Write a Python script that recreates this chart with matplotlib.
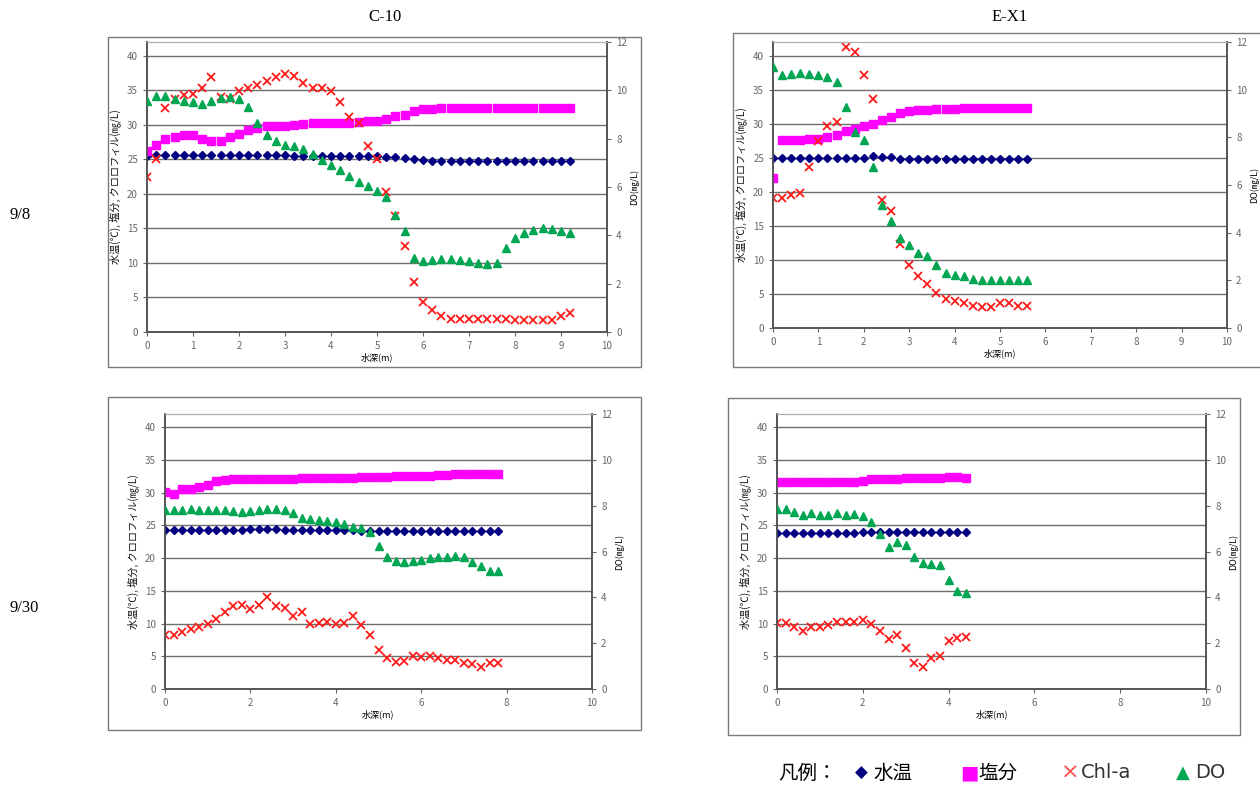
import matplotlib.pyplot as plt
from matplotlib.patches import Rectangle

plt.rcParams['font.family'] = ['Noto Sans CJK JP', 'DejaVu Sans']

W, H = 1260, 789

# ---- C-10, 9/8 ----
c10_a_depth = [0.0, 0.2, 0.4, 0.6, 0.8, 1.0, 1.2, 1.4, 1.6, 1.8, 2.0, 2.2, 2.4, 2.6, 2.8, 3.0,
               3.2, 3.4, 3.6, 3.8, 4.0, 4.2, 4.4, 4.6, 4.8, 5.0, 5.2, 5.4, 5.6, 5.8, 6.0, 6.2,
               6.4, 6.6, 6.8, 7.0, 7.2, 7.4, 7.6, 7.8, 8.0, 8.2, 8.4, 8.6, 8.8, 9.0, 9.2]
c10_a_temp = [25.5, 25.7, 25.7, 25.7, 25.7, 25.7, 25.7, 25.7, 25.7, 25.7, 25.7, 25.7, 25.7, 25.7,
              25.7, 25.7, 25.5, 25.5, 25.5, 25.5, 25.5, 25.5, 25.5, 25.5, 25.5, 25.5, 25.4, 25.3,
              25.2, 25.0, 24.9, 24.8, 24.8, 24.8, 24.8, 24.8, 24.8, 24.8, 24.8, 24.8, 24.8, 24.8,
              24.8, 24.8, 24.8, 24.8, 24.8]
c10_a_sal = [26.2, 27.1, 27.9, 28.2, 28.5, 28.5, 28.0, 27.7, 27.7, 28.2, 28.7, 29.2, 29.6, 29.9,
             29.9, 29.9, 30.0, 30.1, 30.2, 30.2, 30.3, 30.3, 30.3, 30.4, 30.5, 30.5, 30.9, 31.3,
             31.5, 32.0, 32.3, 32.3, 32.4, 32.4, 32.4, 32.4, 32.4, 32.4, 32.5, 32.5, 32.5, 32.5,
             32.5, 32.5, 32.5, 32.5, 32.5]
c10_a_chl = [22.4, 25.0, 32.5, 33.7, 34.3, 34.5, 35.3, 36.9, 34.0, 33.8, 34.9, 35.4, 35.8, 36.4,
             37.0, 37.4, 37.1, 36.1, 35.3, 35.3, 34.9, 33.3, 31.1, 30.2, 27.0, 25.1, 20.3, 16.8,
             12.5, 7.3, 4.3, 3.2, 2.3, 1.9, 1.9, 1.9, 1.9, 1.9, 1.9, 1.9, 1.8, 1.8, 1.8, 1.8,
             1.8, 2.3, 2.7]
c10_a_do = [9.57, 9.78, 9.78, 9.64, 9.57, 9.50, 9.44, 9.55, 9.68, 9.72, 9.64, 9.30, 8.65, 8.14,
            7.89, 7.75, 7.69, 7.58, 7.38, 7.13, 6.93, 6.72, 6.45, 6.20, 6.03, 5.85, 5.59, 4.86,
            4.20, 3.07, 2.93, 3.00, 3.03, 3.03, 2.98, 2.93, 2.85, 2.82, 2.85, 3.48, 3.87, 4.10,
            4.24, 4.31, 4.28, 4.17, 4.10]

# ---- E-X1, 9/8 ----
ex1_a_depth = [0.0, 0.2, 0.4, 0.6, 0.8, 1.0, 1.2, 1.4, 1.6, 1.8, 2.0, 2.2, 2.4, 2.6, 2.8, 3.0,
               3.2, 3.4, 3.6, 3.8, 4.0, 4.2, 4.4, 4.6, 4.8, 5.0, 5.2, 5.4, 5.6]
ex1_a_temp = [25.0, 25.0, 25.0, 25.0, 25.0, 25.0, 25.0, 25.0, 25.0, 25.0, 25.0, 25.2, 25.1, 25.1,
              24.8, 24.8, 24.8, 24.8, 24.8, 24.8, 24.8, 24.8, 24.8, 24.8, 24.8, 24.8, 24.8, 24.8,
              24.8]
ex1_a_sal = [22.0, 27.6, 27.6, 27.6, 27.7, 27.8, 28.0, 28.3, 28.9, 29.2, 29.6, 29.9, 30.6, 31.0,
             31.5, 31.8, 32.0, 32.0, 32.2, 32.2, 32.2, 32.3, 32.3, 32.3, 32.3, 32.3, 32.3, 32.3,
             32.3]
ex1_a_chl = [19.1, 19.1, 19.6, 19.8, 23.7, 27.5, 29.6, 30.2, 41.2, 40.5, 37.1, 33.6, 18.8, 17.2,
             12.4, 9.2, 7.6, 6.4, 5.2, 4.2, 3.9, 3.7, 3.3, 3.1, 3.1, 3.6, 3.7, 3.3, 3.3]
ex1_a_do = [10.95, 10.62, 10.67, 10.71, 10.67, 10.60, 10.53, 10.34, 9.29, 8.22, 7.87, 6.76, 5.18,
            4.48, 3.78, 3.50, 3.15, 3.04, 2.66, 2.31, 2.24, 2.17, 2.06, 2.03, 2.03, 2.00, 2.00,
            2.00, 2.00]

# ---- C-10, 9/30 ----
c10_b_depth = [0.0, 0.2, 0.4, 0.6, 0.8, 1.0, 1.2, 1.4, 1.6, 1.8, 2.0, 2.2, 2.4, 2.6, 2.8, 3.0,
               3.2, 3.4, 3.6, 3.8, 4.0, 4.2, 4.4, 4.6, 4.8, 5.0, 5.2, 5.4, 5.6, 5.8, 6.0, 6.2,
               6.4, 6.6, 6.8, 7.0, 7.2, 7.4, 7.6, 7.8]
c10_b_temp = [24.3, 24.3, 24.3, 24.3, 24.3, 24.3, 24.3, 24.3, 24.3, 24.3, 24.4, 24.4, 24.4, 24.4,
              24.3, 24.3, 24.3, 24.3, 24.3, 24.3, 24.3, 24.3, 24.3, 24.1, 24.1, 24.1, 24.1, 24.1,
              24.1, 24.1, 24.1, 24.1, 24.1, 24.1, 24.1, 24.1, 24.1, 24.1, 24.1, 24.1]
c10_b_sal = [30.1, 29.8, 30.5, 30.6, 30.9, 31.1, 31.7, 31.9, 32.0, 32.0, 32.1, 32.1, 32.1, 32.1,
             32.1, 32.1, 32.2, 32.2, 32.2, 32.2, 32.2, 32.2, 32.3, 32.4, 32.4, 32.4, 32.4, 32.5,
             32.5, 32.6, 32.6, 32.6, 32.7, 32.7, 32.8, 32.9, 32.9, 32.9, 32.9, 32.9]
c10_b_chl = [8.3, 8.2, 8.7, 9.2, 9.5, 10.0, 10.7, 11.7, 12.7, 12.8, 12.2, 12.8, 14.0, 12.7, 12.4,
             11.2, 11.8, 10.0, 10.1, 10.2, 10.0, 10.1, 11.1, 9.8, 8.2, 6.0, 4.8, 4.1, 4.3, 5.1,
             4.9, 5.1, 4.8, 4.5, 4.5, 4.0, 3.8, 3.4, 4.0, 3.9]
c10_b_do = [7.79, 7.82, 7.82, 7.85, 7.82, 7.82, 7.79, 7.79, 7.77, 7.74, 7.77, 7.82, 7.85, 7.85,
            7.79, 7.66, 7.48, 7.41, 7.37, 7.34, 7.28, 7.19, 7.09, 7.02, 6.87, 6.22, 5.74, 5.59,
            5.53, 5.59, 5.62, 5.71, 5.74, 5.76, 5.81, 5.74, 5.53, 5.36, 5.17, 5.17]

# ---- E-X1, 9/30 ----
ex1_b_depth = [0.0, 0.2, 0.4, 0.6, 0.8, 1.0, 1.2, 1.4, 1.6, 1.8, 2.0, 2.2, 2.4, 2.6, 2.8, 3.0,
               3.2, 3.4, 3.6, 3.8, 4.0, 4.2, 4.4]
ex1_b_temp = [23.8, 23.8, 23.8, 23.8, 23.8, 23.8, 23.8, 23.8, 23.8, 23.8, 24.0, 24.0, 24.0, 24.0,
              24.0, 24.0, 24.0, 24.0, 24.0, 24.0, 24.0, 24.0, 24.0]
ex1_b_sal = [31.6, 31.6, 31.6, 31.6, 31.6, 31.6, 31.6, 31.6, 31.6, 31.6, 31.7, 32.0, 32.1, 32.1,
             32.1, 32.2, 32.2, 32.3, 32.3, 32.3, 32.4, 32.4, 32.3]
ex1_b_chl = [10.1, 10.1, 9.4, 8.8, 9.5, 9.4, 9.8, 10.2, 10.2, 10.2, 10.6, 9.9, 8.9, 7.6, 8.2, 6.3,
             3.9, 3.3, 4.8, 5.1, 7.3, 7.8, 8.0]
ex1_b_do = [7.86, 7.86, 7.72, 7.60, 7.69, 7.61, 7.60, 7.69, 7.61, 7.64, 7.57, 7.28, 6.76, 6.21,
            6.40, 6.30, 5.77, 5.52, 5.45, 5.39, 4.76, 4.28, 4.20]

station_names = ['C-10', 'E-X1']
date_labels = ['9/8', '9/30']

NAVY = '#000080'
MAGENTA = '#ff00ff'
RED = '#ff1a1a'
GREEN = '#00a651'


def box(l, t, r, b):
    # pixel box -> figure fraction [left, bottom, width, height]
    return [l / W, 1 - b / H, (r - l) / W, (b - t) / H]


def frame(l, t, r, b):
    fig.add_artist(Rectangle((l / W, 1 - b / H), (r - l) / W, (b - t) / H,
                             transform=fig.transFigure, fill=False, ec='#7a7a7a', lw=1.0))


def panel(rect, depth, temp, sal, chl, do, xstep):
    ax = fig.add_axes(box(*rect))
    ax.set_xlim(0, 10)
    ax.set_ylim(0, 42)
    ax.set_yticks(list(range(0, 45, 5)))
    ax.set_xticks(list(range(0, 11, xstep)))
    for v in range(5, 45, 5):
        ax.axhline(v, color='#6f6f6f', lw=1.0, zorder=0)
    ax.plot(depth, temp, 'D', color=NAVY, ms=4.2, zorder=3)
    ax.plot(depth, sal, 's', color=MAGENTA, ms=5.6, zorder=3)
    ax.plot(depth, chl, 'x', color=RED, ms=5.2, mew=1.3, zorder=4)
    ax.set_ylabel('水温(℃), 塩分, クロロフィル(㎎/L)', fontsize=7.3, labelpad=4, color='#111111')
    ax.set_xlabel('水深(m)', fontsize=6.5, labelpad=1)
    ax.tick_params(labelsize=7, labelcolor='#666666', length=3, color='#666666', width=0.8)

    ax2 = ax.twinx()
    ax2.set_ylim(0, 12)
    ax2.set_yticks(list(range(0, 13, 2)))
    ax2.plot(depth, do, '^', color=GREEN, ms=6, zorder=3)
    ax2.set_ylabel('DO(㎎/L)', fontsize=6.5, labelpad=2)
    ax2.tick_params(labelsize=7, labelcolor='#666666', length=3, color='#666666', width=0.8)

    for a in (ax, ax2):
        for s in ('left', 'bottom', 'right'):
            a.spines[s].set_color('#555555')
            a.spines[s].set_linewidth(1.2)
        a.spines['top'].set_color('#b0b0b0')
        a.spines['top'].set_linewidth(0.8)
    return ax


fig = plt.figure(figsize=(W / 100, H / 100), dpi=100)

# outer frames of the four charts
frame(108, 37, 641, 367)
frame(733, 33, 1262, 367)
frame(108, 397, 641, 730)
frame(728, 398, 1240, 735)

panel((147, 42, 607, 332), c10_a_depth, c10_a_temp, c10_a_sal, c10_a_chl, c10_a_do, 1)
panel((773, 42, 1227, 328), ex1_a_depth, ex1_a_temp, ex1_a_sal, ex1_a_chl, ex1_a_do, 1)
panel((165, 414, 592, 689), c10_b_depth, c10_b_temp, c10_b_sal, c10_b_chl, c10_b_do, 2)
panel((777, 414, 1206, 689), ex1_b_depth, ex1_b_temp, ex1_b_sal, ex1_b_chl, ex1_b_do, 2)

# station titles and date labels
serif = ['Liberation Serif', 'DejaVu Serif']
fig.text(385 / W, 1 - 17 / H, station_names[0], ha='center', va='center', fontsize=12, family=serif)
fig.text(1010 / W, 1 - 17 / H, station_names[1], ha='center', va='center', fontsize=12, family=serif)
fig.text(10 / W, 1 - 215 / H, date_labels[0], ha='left', va='center', fontsize=12, family=serif)
fig.text(10 / W, 1 - 608 / H, date_labels[1], ha='left', va='center', fontsize=12, family=serif)

# legend row at the bottom right
ly = 1 - 773 / H
sans = ['DejaVu Sans']
fig.text(778 / W, ly, '凡例：', fontsize=14, va='center')
fig.text(855 / W, ly, '◆', fontsize=12, va='center', color=NAVY, family=sans)
fig.text(873 / W, ly, '水温', fontsize=14, va='center')
fig.text(960 / W, ly, '■', fontsize=14, va='center', color=MAGENTA, family=sans)
fig.text(978 / W, ly, '塩分', fontsize=14, va='center')
fig.text(1061 / W, ly, '×', fontsize=16, va='center', color='#ff5050', family=sans)
fig.text(1081 / W, ly, 'Chl-a', fontsize=14, va='center', color='#333333', family=sans)
fig.text(1176 / W, ly, '▲', fontsize=13, va='center', color=GREEN, family=sans)
fig.text(1195 / W, ly, 'DO', fontsize=14, va='center', color='#333333', family=sans)

fig.savefig('out.png', dpi=100)
